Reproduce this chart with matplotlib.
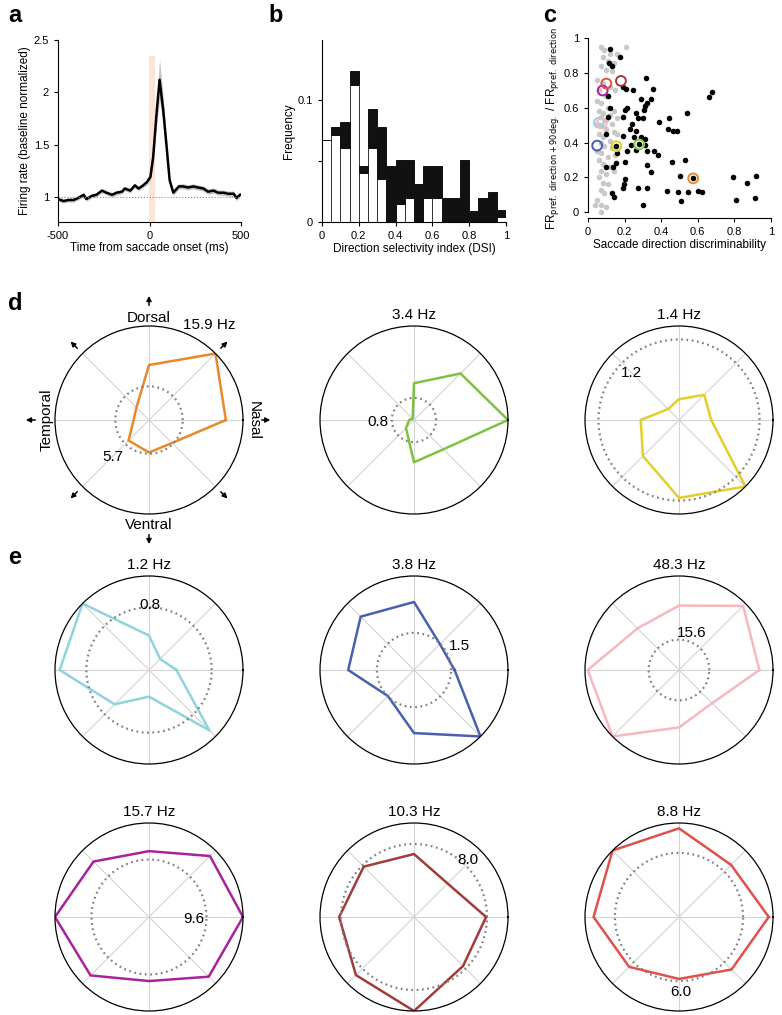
import numpy as np
import matplotlib.pyplot as plt

plt.rcParams['font.family'] = ['Liberation Sans', 'DejaVu Sans']
plt.rcParams['font.size'] = 8
plt.rcParams['axes.unicode_minus'] = False
plt.rcParams['axes.linewidth'] = 0.8
plt.rcParams['xtick.major.width'] = 0.8
plt.rcParams['ytick.major.width'] = 0.8
plt.rcParams['xtick.major.size'] = 3
plt.rcParams['ytick.major.size'] = 3

# ---- panel a: saccade aligned firing rate
time_ms = [-500, -470, -445, -415, -390, -360, -345, -315, -290, -260, -235, -205, -180, -150,
           -135, -105, -80, -60, -35, -15, 5, 20, 40, 55, 75, 95, 110, 130, 160, 185, 210,
           240, 265, 295, 320, 350, 375, 405, 430, 460, 475, 495]
rate = [0.98, 0.96, 0.97, 0.97, 0.99, 1.02, 0.98, 1.01, 1.02, 1.06, 1.04, 1.02, 1.04, 1.05,
        1.08, 1.06, 1.11, 1.08, 1.11, 1.14, 1.19, 1.38, 1.83, 2.12, 1.83, 1.45, 1.16, 1.04,
        1.10, 1.10, 1.09, 1.10, 1.09, 1.08, 1.05, 1.06, 1.04, 1.04, 1.03, 1.03, 0.99, 1.02]
rate_sem = [0.02, 0.02, 0.02, 0.02, 0.02, 0.02, 0.02, 0.02, 0.02, 0.02, 0.02, 0.02, 0.02, 0.02,
            0.02, 0.02, 0.02, 0.02, 0.02, 0.025, 0.03, 0.06, 0.12, 0.2, 0.12, 0.06, 0.03, 0.025,
            0.025, 0.025, 0.025, 0.025, 0.025, 0.025, 0.025, 0.025, 0.025, 0.025, 0.025, 0.025,
            0.025, 0.025]

# ---- panel b: DSI histogram
dsi_edges = [0.0, 0.05, 0.1, 0.15, 0.2, 0.25, 0.3, 0.35, 0.4, 0.45, 0.5, 0.55, 0.6, 0.65, 0.7,
             0.75, 0.8, 0.85, 0.9, 0.95]
freq_white = [0.067, 0.071, 0.061, 0.112, 0.040, 0.061, 0.035, 0.0, 0.015, 0.020, 0.0, 0.020,
              0.020, 0.0, 0.0, 0.0, 0.0, 0.0, 0.0, 0.004]
freq_black = [0.0, 0.007, 0.021, 0.012, 0.006, 0.032, 0.043, 0.046, 0.036, 0.031, 0.031, 0.026,
              0.026, 0.020, 0.020, 0.051, 0.0095, 0.020, 0.025, 0.006]

# ---- panel c: scatter
gray_x = [0.07, 0.09, 0.12, 0.16, 0.21, 0.08, 0.11, 0.14, 0.07, 0.10, 0.13, 0.05, 0.08, 0.12,
          0.15, 0.06, 0.10, 0.05, 0.07, 0.11, 0.14, 0.06, 0.08, 0.12, 0.07, 0.10, 0.13, 0.16,
          0.19, 0.05, 0.07, 0.10, 0.14, 0.06, 0.08, 0.12, 0.16, 0.07, 0.09, 0.13, 0.05, 0.07,
          0.11, 0.15, 0.06, 0.08, 0.12, 0.07, 0.10, 0.14, 0.06, 0.08, 0.11, 0.07, 0.09, 0.05,
          0.07, 0.10, 0.07, 0.04]
gray_y = [0.95, 0.93, 0.91, 0.91, 0.95, 0.89, 0.87, 0.86, 0.84, 0.82, 0.81, 0.76, 0.74, 0.72,
          0.70, 0.70, 0.67, 0.64, 0.63, 0.60, 0.58, 0.58, 0.57, 0.56, 0.55, 0.53, 0.51, 0.54,
          0.55, 0.51, 0.50, 0.48, 0.46, 0.45, 0.43, 0.41, 0.45, 0.40, 0.38, 0.37, 0.35, 0.34,
          0.32, 0.33, 0.30, 0.28, 0.26, 0.24, 0.22, 0.24, 0.20, 0.17, 0.16, 0.13, 0.11, 0.07,
          0.04, 0.03, 0.00, 0.04]
black_x = [0.12, 0.175, 0.115, 0.13, 0.315, 0.19, 0.21, 0.245, 0.355, 0.11, 0.29, 0.345, 0.66,
           0.68, 0.12, 0.20, 0.215, 0.31, 0.325, 0.305, 0.54, 0.44, 0.11, 0.19, 0.265, 0.275,
           0.30, 0.24, 0.39, 0.435, 0.465, 0.485, 0.23, 0.265, 0.10, 0.19, 0.25, 0.29, 0.31,
           0.235, 0.31, 0.155, 0.215, 0.265, 0.325, 0.36, 0.38, 0.16, 0.155, 0.20, 0.46, 0.53,
           0.325, 0.10, 0.135, 0.345, 0.50, 0.20, 0.195, 0.19, 0.275, 0.32, 0.43, 0.49, 0.545,
           0.60, 0.625, 0.13, 0.14, 0.30, 0.51, 0.79, 0.87, 0.92, 0.81, 0.915, 0.575, 0.28]
black_y = [0.94, 0.89, 0.86, 0.84, 0.77, 0.72, 0.71, 0.70, 0.71, 0.67, 0.65, 0.65, 0.66, 0.69,
           0.60, 0.59, 0.60, 0.61, 0.63, 0.59, 0.57, 0.54, 0.55, 0.55, 0.57, 0.54, 0.54, 0.51,
           0.52, 0.48, 0.47, 0.47, 0.48, 0.47, 0.45, 0.44, 0.43, 0.43, 0.42, 0.385, 0.385, 0.38,
           0.35, 0.36, 0.35, 0.35, 0.33, 0.34, 0.285, 0.29, 0.29, 0.30, 0.27, 0.26, 0.26, 0.23,
           0.21, 0.19, 0.16, 0.14, 0.14, 0.14, 0.125, 0.115, 0.115, 0.125, 0.115, 0.11, 0.086,
           0.04, 0.067, 0.205, 0.17, 0.21, 0.07, 0.084, 0.195, 0.39]
ring_x = [0.575, 0.28, 0.155, 0.05, 0.06, 0.075, 0.08, 0.10, 0.18]
ring_y = [0.195, 0.39, 0.38, 0.383, 0.515, 0.51, 0.70, 0.74, 0.755]
ring_colors = ['#E8892A', '#8CC63F', '#E2CF2A', '#4A5FB0', '#8FD3DC', '#F6B8BE', '#A8239B',
               '#E2504A', '#A23B3B']

# ---- panels d, e: polar tuning (8 directions, Hz)
directions_deg = [0, 45, 90, 135, 180, 225, 270, 315]
unit_rates = [
    [13.0, 15.9, 9.3, 3.0, 2.6, 4.9, 5.5, 5.5],
    [3.4, 2.38, 1.33, 0.07, 0.17, 0.41, 1.53, 1.5],
    [0.48, 0.53, 0.31, 0.23, 0.57, 0.76, 1.16, 1.4],
    [0.35, 0.2, 0.44, 1.2, 1.14, 0.62, 0.34, 1.09],
    [1.64, 1.48, 2.75, 3.05, 2.66, 1.49, 2.55, 3.8],
    [41.3, 46.6, 33.1, 30.2, 46.9, 48.3, 29.5, 24.1],
    [15.7, 14.4, 11.0, 13.1, 15.7, 13.8, 10.7, 14.1],
    [7.9, 5.2, 6.9, 7.8, 8.2, 9.0, 10.3, 7.6],
    [8.4, 6.9, 8.3, 8.8, 8.0, 6.6, 5.8, 6.95],
]
unit_max = [15.9, 3.4, 1.4, 1.2, 3.8, 48.3, 15.7, 10.3, 8.8]
unit_base = [5.7, 0.8, 1.2, 0.8, 1.5, 15.6, 9.6, 8.0, 6.0]
unit_colors = ['#E8892A', '#7DC242', '#E2CF2A', '#8FD3DC', '#4A5FB0', '#F6B8BE', '#A8239B',
               '#A23B3B', '#E2504A']

W, H = 782, 1015
fig = plt.figure(figsize=(W / 100, H / 100), dpi=100)


def px_axes(left, top, w, h, **kw):
    return fig.add_axes([left / W, 1 - (top + h) / H, w / W, h / H], **kw)


# a
ax = px_axes(58, 40, 183, 182)
ax.axvspan(-5, 30, ymin=0, ymax=0.91, color='#fde3d3', lw=0)
r = np.array(rate)
s = np.array(rate_sem)
ax.fill_between(time_ms, r - s, r + s, color='#c4c4c4', lw=0)
ax.plot(time_ms, rate, color='k', lw=1.8)
ax.axhline(1, color='#888888', lw=0.8, ls=':')
ax.set_xlim(-500, 500)
ax.set_ylim(0.76, 2.5)
ax.set_xticks([-500, 0, 500])
ax.set_yticks([1, 1.5, 2, 2.5])
ax.set_yticklabels(['1', '1.5', '2', '2.5'])
ax.set_xlabel('Time from saccade onset (ms)', fontsize=8.5, labelpad=1)
ax.set_ylabel('Firing rate (baseline normalized)', fontsize=8.5, labelpad=2)
for sp in ['top', 'right']:
    ax.spines[sp].set_visible(False)

# b
ax = px_axes(322, 40, 184, 182.3)
ax.bar(dsi_edges, freq_white, width=0.05, align='edge', color='white', edgecolor='#333333', lw=0.7)
ax.bar(dsi_edges, freq_black, width=0.05, align='edge', bottom=freq_white, color='#111111',
       edgecolor='#111111', lw=0.7)
ax.set_xlim(0, 1)
ax.set_ylim(0, 0.149)
ax.set_xticks([0, 0.2, 0.4, 0.6, 0.8, 1])
ax.set_xticklabels(['0', '0.2', '0.4', '0.6', '0.8', '1'])
ax.set_yticks([0, 0.05, 0.1])
ax.set_yticklabels(['0', '', '0.1'])
ax.set_xlabel('Direction selectivity index (DSI)', fontsize=8.5, labelpad=1)
ax.set_ylabel('Frequency', fontsize=8.5, labelpad=2)
for sp in ['top', 'right']:
    ax.spines[sp].set_visible(False)

# c
ax = px_axes(588, 38.3, 183, 180)
ax.scatter(gray_x, gray_y, s=16, color='#c8c8c8', lw=0, clip_on=False)
ax.scatter(black_x, black_y, s=16, color='k', lw=0, clip_on=False)
ax.scatter(ring_x, ring_y, s=50, facecolors='none', edgecolors=ring_colors, lw=1.4, clip_on=False)
ax.set_xlim(0, 1)
ax.set_ylim(-0.0345, 1.0)
ax.spines['left'].set_bounds(0, 1)
ax.set_xticks([0, 0.2, 0.4, 0.6, 0.8, 1])
ax.set_xticklabels(['0', '0.2', '0.4', '0.6', '0.8', '1'])
ax.set_yticks([0, 0.2, 0.4, 0.6, 0.8, 1])
ax.set_yticklabels(['0', '0.2', '0.4', '0.6', '0.8', '1'])
ax.set_xlabel('Saccade direction discriminability', fontsize=8.5, labelpad=1)
ax.set_ylabel(r'FR$_{\rm pref.\ direction+90deg.}$ / FR$_{\rm pref.\ direction}$', fontsize=8.5,
              labelpad=2)
for sp in ['top', 'right']:
    ax.spines[sp].set_visible(False)

# d, e polar plots
centers_x = [149, 414, 679]
centers_y = [420, 670, 917]
R = 94
label_pos = [(0.309, 0.305), (0.309, 0.491), (0.247, 0.751), (0.505, 0.844), (0.742, 0.629),
             (0.565, 0.698), (0.738, 0.489), (0.786, 0.804), (0.509, 0.102)]
theta = np.deg2rad(directions_deg + [directions_deg[0]])
circ = np.linspace(0, 2 * np.pi, 300)
polar_axes = []
for i in range(9):
    cx = centers_x[i % 3]
    cy = centers_y[i // 3]
    ax = px_axes(cx - R, cy - R, 2 * R, 2 * R, projection='polar')
    vals = unit_rates[i] + [unit_rates[i][0]]
    ax.plot(theta, vals, color=unit_colors[i], lw=1.8)
    ax.plot(circ, [unit_base[i]] * len(circ), color='#808080', lw=1.6, ls=(0, (0.8, 1.6)))
    ax.set_ylim(0, unit_max[i])
    ax.set_yticks([])
    ax.set_xticks(np.deg2rad(directions_deg))
    ax.set_xticklabels([])
    ax.tick_params(axis='both', which='both', length=0, width=0)
    ax.grid(True, color='#d4d4d4', lw=0.8)
    for sp in ['start', 'end', 'inner']:
        ax.spines[sp].set_visible(False)
    ax.spines['polar'].set_linewidth(0.9)
    ax.text(label_pos[i][0], label_pos[i][1], '%.1f' % unit_base[i], transform=ax.transAxes,
            ha='center', va='center', fontsize=11)
    if i == 0:
        ax.text(0.82, 1.005, '%.1f Hz' % unit_max[i], transform=ax.transAxes, ha='center',
                va='center', fontsize=11)
    else:
        ax.text(0.5, 1.06, '%.1f Hz' % unit_max[i], transform=ax.transAxes, ha='center',
                va='center', fontsize=11)
    polar_axes.append(ax)

# direction labels and arrows on the first unit
ax = polar_axes[0]
m = unit_max[0]
ax.text(0.5, 0.5 + 1.09 / 2, 'Dorsal', transform=ax.transAxes, ha='center', va='center', fontsize=11)
ax.text(0.5, 0.5 - 1.12 / 2, 'Ventral', transform=ax.transAxes, ha='center', va='center', fontsize=11)
ax.text(0.5 + 1.11 / 2, 0.5, 'Nasal', transform=ax.transAxes, ha='center', va='center',
        rotation=-90, fontsize=11)
ax.text(0.5 - 1.09 / 2, 0.5, 'Temporal', transform=ax.transAxes, ha='center', va='center',
        rotation=90, fontsize=11)
arrow_r = {0: (1.20, 1.29), 90: (1.22, 1.32), 180: (1.21, 1.31), 270: (1.22, 1.32)}
for d in directions_deg:
    r0, r1 = arrow_r.get(d, (1.08, 1.18))
    ax.annotate('', xy=(np.deg2rad(d), r1 * m), xytext=(np.deg2rad(d), r0 * m),
                arrowprops=dict(arrowstyle='-|>,head_length=0.35,head_width=0.18', color='k',
                                lw=1.1, shrinkA=0, shrinkB=0),
                annotation_clip=False)

# panel letters
for letter, x, y in [('a', 8, 15), ('b', 268, 15), ('c', 543, 15), ('d', 8, 303), ('e', 8, 558)]:
    fig.text(x / W, 1 - y / H, letter, fontsize=17, fontweight='bold', ha='left', va='center')

fig.savefig('out.png', dpi=100)
